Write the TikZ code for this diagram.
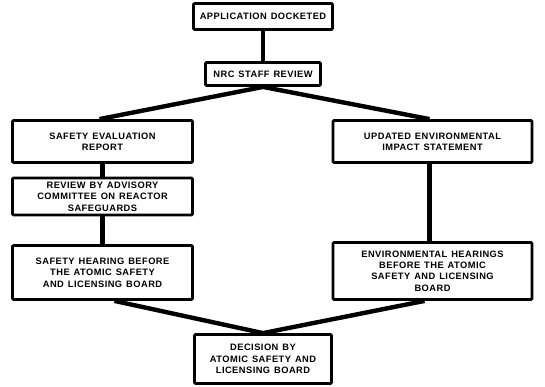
\documentclass[tikz,border=0pt]{standalone}
\usepackage{fontspec}
\setmainfont{Liberation Sans}
\newfontfamily\boxfont[LetterSpace=5,WordSpace=1.3]{Liberation Sans}
\usetikzlibrary{calc}
\begin{document}
\begin{tikzpicture}[x=1pt,y=-1pt,
  box/.style={draw=black, line width=2.8pt, fill=white, rounded corners=1.2pt,
    inner sep=0pt, align=center, font=\boxfont\fontsize{9.3}{11.4}\selectfont\bfseries},
  conn/.style={draw=black, line width=4.4pt}]
\useasboundingbox[fill=white] (0,0) rectangle (545,386);
\node[box, minimum width=139pt, minimum height=26pt] (app) at (263,16.5) {APPLICATION DOCKETED};
\node[box, minimum width=115pt, minimum height=23pt] (nrc) at (263,74) {NRC STAFF REVIEW};
\node[box, minimum width=180pt, minimum height=42pt] (ser) at (102.5,141.5) {SAFETY EVALUATION\\REPORT};
\node[box, minimum width=199pt, minimum height=42pt] (ueis) at (432.5,141.5) {UPDATED ENVIRONMENTAL\\IMPACT STATEMENT};
\node[box, minimum width=180pt, minimum height=37pt] (acrs) at (102.5,196.5) {REVIEW BY ADVISORY\\COMMITTEE ON REACTOR\\SAFEGUARDS};
\node[box, minimum width=180pt, minimum height=54pt] (sh) at (102.5,272.5) {SAFETY HEARING BEFORE\\THE ATOMIC SAFETY\\AND LICENSING BOARD};
\node[box, minimum width=199pt, minimum height=57pt] (env) at (432.5,271) {ENVIRONMENTAL HEARINGS\\BEFORE THE ATOMIC\\SAFETY AND LICENSING\\BOARD};
\node[box, minimum width=137pt, minimum height=49pt] (dec) at (263,359) {DECISION BY\\ATOMIC SAFETY AND\\LICENSING BOARD};
\draw[conn] (app.south) -- (nrc.north);
\draw[conn] (nrc.south) -- ($(ser.north)+(-3,0)$);
\draw[conn] (nrc.south) -- ($(ueis.north)+(-3,0)$);
\draw[conn] (ser.south) -- (acrs.north);
\draw[conn] (acrs.south) -- (sh.north);
\draw[conn] ($(ueis.south)+(-3,0)$) -- ($(env.north)+(-3,0)$);
\draw[conn] ($(sh.south)+(12,0)$) -- (dec.north);
\draw[conn] ($(env.south)+(-8,0)$) -- (dec.north);
\end{tikzpicture}
\end{document}
